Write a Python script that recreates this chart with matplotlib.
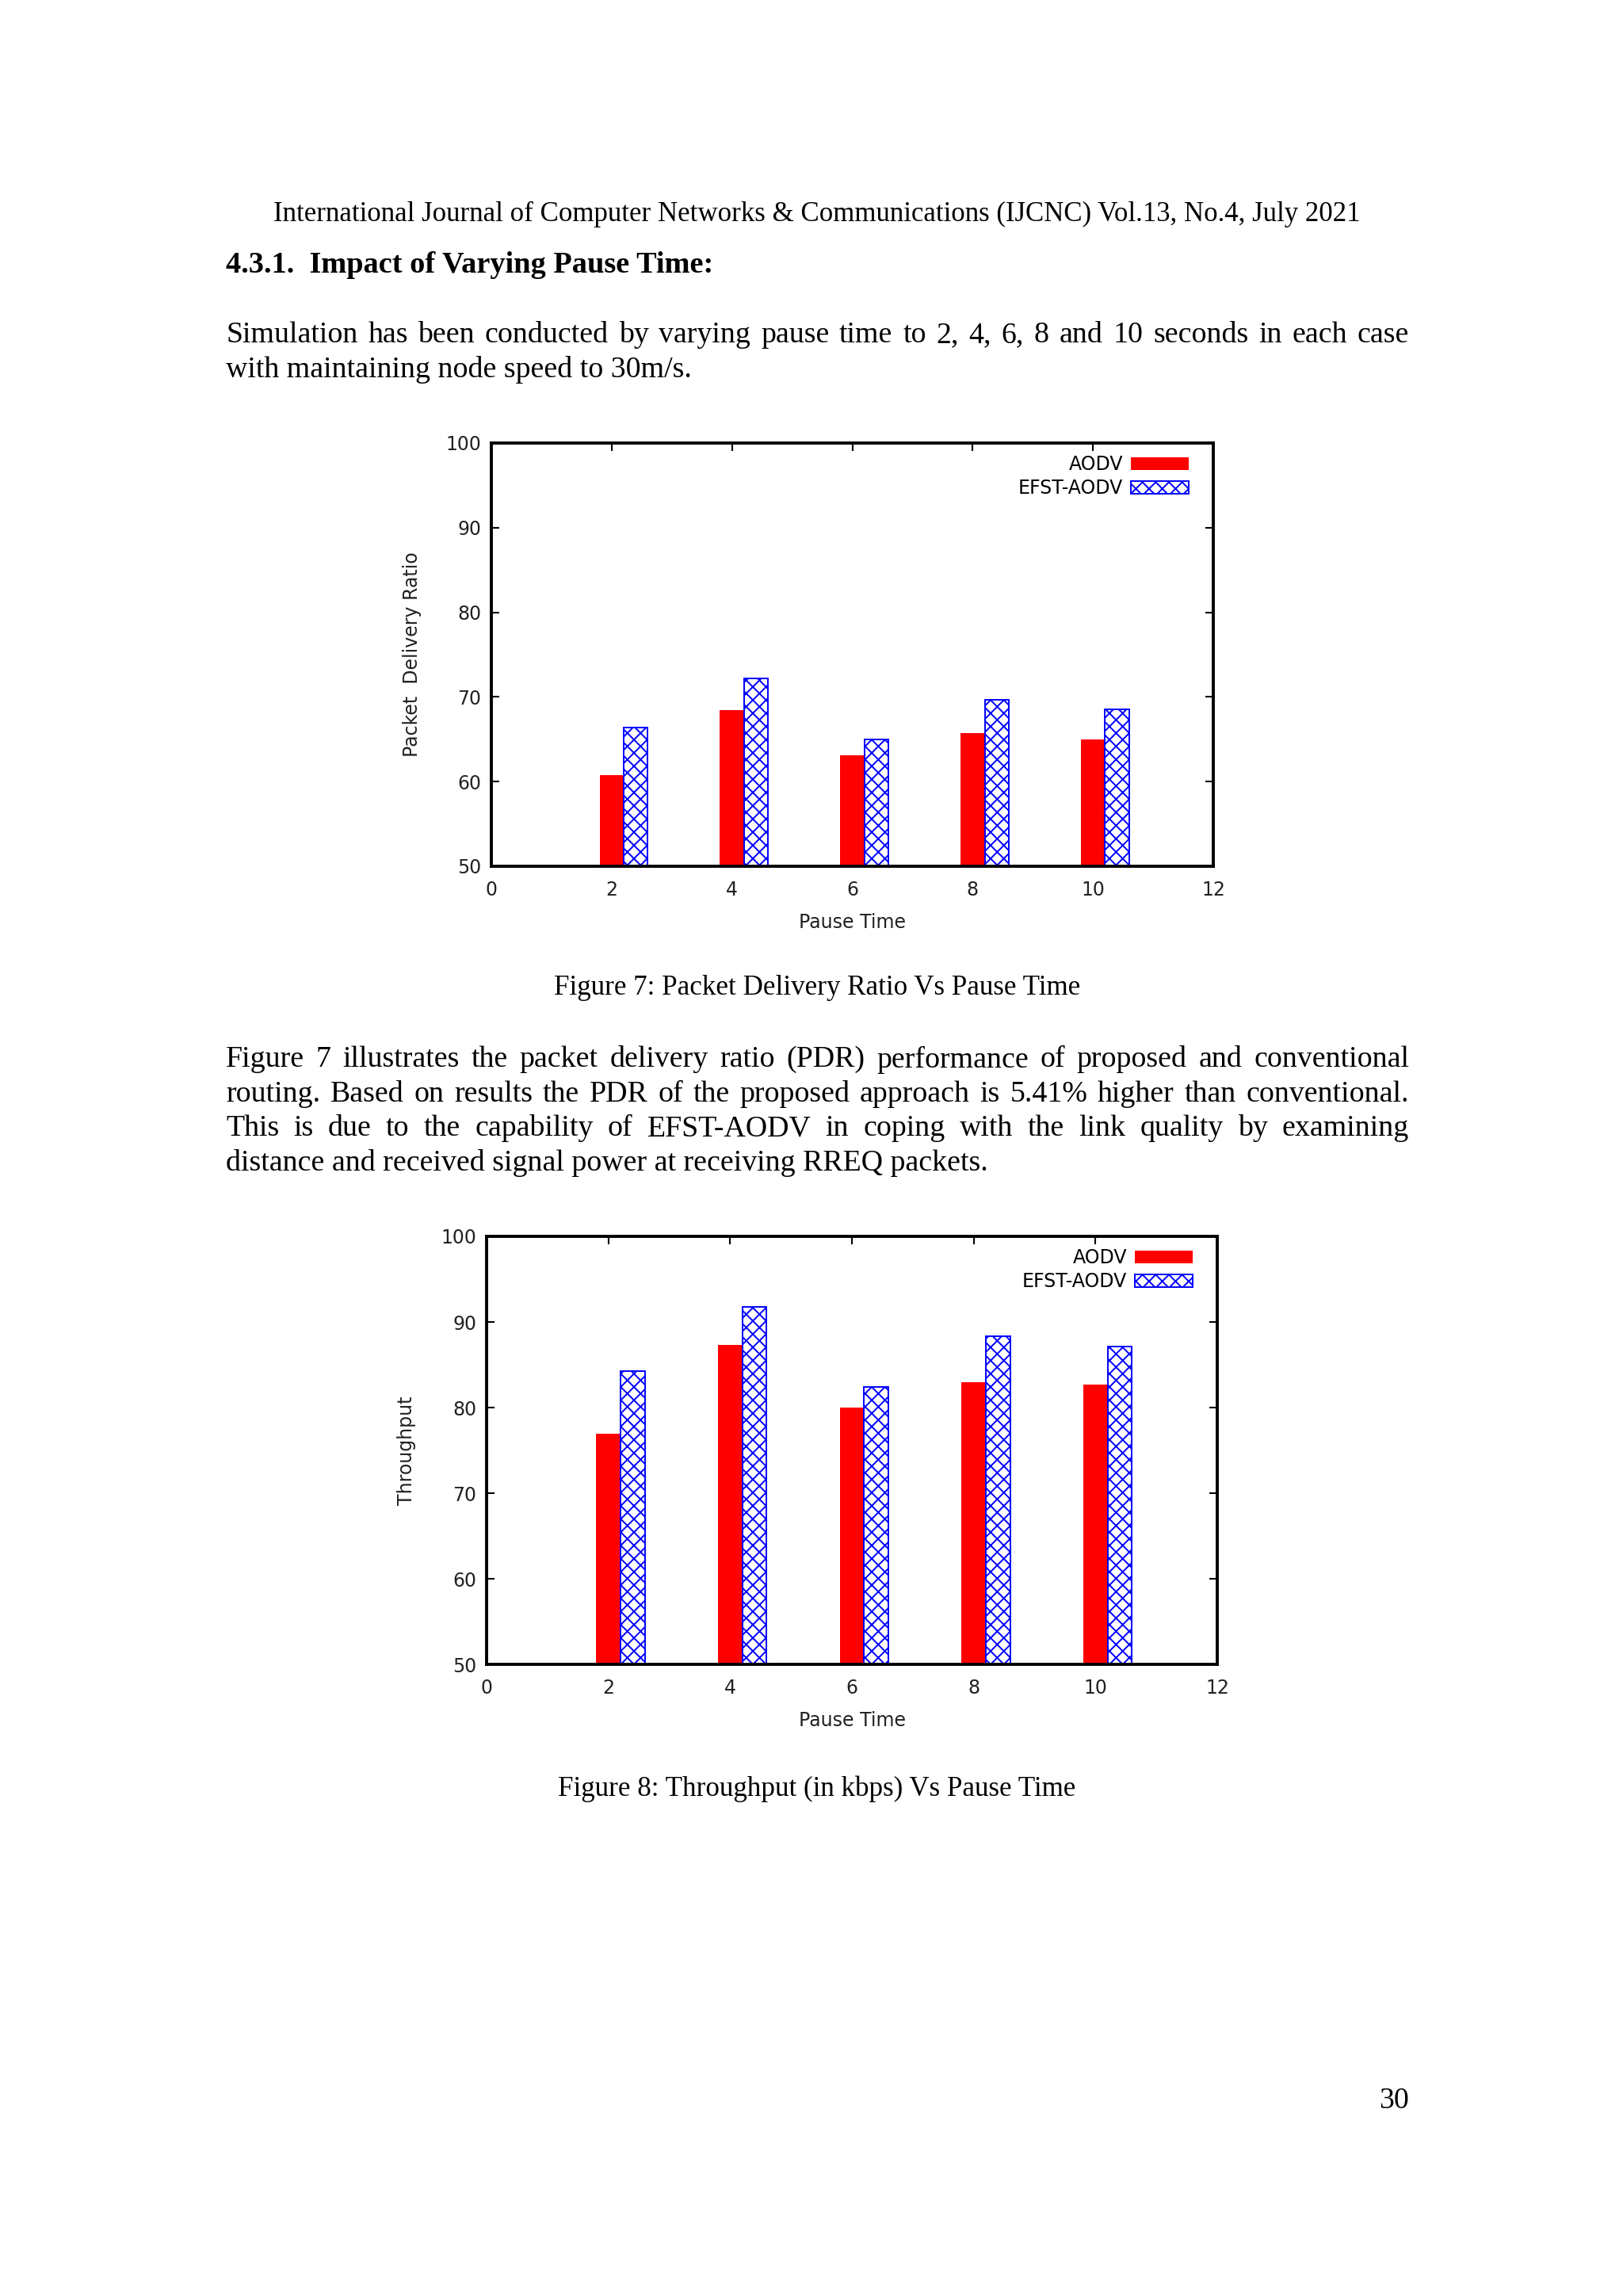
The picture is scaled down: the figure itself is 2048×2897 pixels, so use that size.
import numpy as np
import matplotlib
matplotlib.use("Agg")
import matplotlib.pyplot as plt

# values
pause = [2, 4, 6, 8, 10]
pdr_aodv = [60.8, 68.4, 63.1, 65.7, 65.0]
pdr_efst = [66.4, 72.2, 65.0, 69.7, 68.5]
thr_aodv = [76.9, 87.3, 80.0, 83.0, 82.7]
thr_efst = [84.3, 91.8, 82.4, 88.3, 87.1]
series = ["AODV", "EFST-AODV"]
xticks = [0, 2, 4, 6, 8, 10, 12]
yticks = [50, 60, 70, 80, 90, 100]

header = "International Journal of Computer Networks & Communications (IJCNC) Vol.13, No.4, July 2021"
heading = "4.3.1.  Impact of Varying Pause Time:"
para1 = ["Simulation has been conducted by varying pause time to 2, 4, 6, 8 and 10 seconds in each case",
         "with maintaining node speed to 30m/s."]
para2 = ["Figure 7 illustrates the packet delivery ratio (PDR) performance of proposed and conventional",
         "routing. Based on results the PDR of the proposed approach is 5.41% higher than conventional.",
         "This is due to the capability of EFST-AODV in coping with the link quality by examining",
         "distance and received signal power at receiving RREQ packets."]
cap7 = "Figure 7: Packet Delivery Ratio Vs Pause Time"
cap8 = "Figure 8: Throughput (in kbps) Vs Pause Time"

W, H = 2048, 2897
SERIF = "Liberation Serif"
BODY = 27.3
CAP = 25.2
plt.rcParams['hatch.linewidth'] = 1.4

fig = plt.figure(figsize=(W / 100, H / 100), dpi=100)
fig.patch.set_facecolor("white")


def fx(px):
    return px / W


def fy(py):
    return 1 - py / H


def justified(lines, x0, x1, y0, dy, **kw):
    r = fig.canvas.get_renderer()
    for i, line in enumerate(lines):
        y = fy(y0 + i * dy)
        if i == len(lines) - 1:
            fig.text(fx(x0), y, line, va="center", **kw)
            continue
        words = line.split()
        texts = [fig.text(0, y, w, va="center", **kw) for w in words]
        widths = [t.get_window_extent(r).width for t in texts]
        gap = (x1 - x0 - sum(widths)) / (len(words) - 1)
        x = x0
        for t, w in zip(texts, widths):
            t.set_x(fx(x))
            x += w + gap


fig.text(fx(1031), fy(270), header, ha="center", va="center", family=SERIF, fontsize=25.1)
fig.text(fx(285), fy(335), heading, ha="left", va="center", family=SERIF, fontsize=27.6, weight="bold")
justified(para1, 285, 1778, 423, 44, family=SERIF, fontsize=BODY)
fig.text(fx(1031), fy(1246), cap7, ha="center", va="center", family=SERIF, fontsize=CAP)
justified(para2, 285, 1778, 1337, 43.5, family=SERIF, fontsize=BODY)
fig.text(fx(1031), fy(2257), cap8, ha="center", va="center", family=SERIF, fontsize=CAP)
fig.text(fx(1778), fy(2651), "30", ha="right", va="center", family=SERIF, fontsize=BODY)


def bar_chart(rect, aodv, efst, ylabel, ylab_x):
    ax = fig.add_axes(rect)
    x = np.array(pause)
    ax.bar(x, aodv, width=0.4, color="#ff0000", linewidth=0, label=series[0], zorder=2)
    ax.bar(x + 0.4, efst, width=0.4, facecolor="white", edgecolor="#0000ff",
           hatch="xx", linewidth=1.4, label=series[1], zorder=2)
    ax.set_xlim(0, 12)
    ax.set_ylim(50, 100)
    ax.set_xticks(xticks)
    ax.set_yticks(yticks)
    for s in ax.spines.values():
        s.set_linewidth(2.8)
    ax.tick_params(direction="in", length=7, width=1.5, top=True, right=True,
                   labelsize=17, colors="black", labelcolor="#222222")
    ax.tick_params(axis="x", pad=13)
    ax.tick_params(axis="y", pad=9)
    ax.set_xlabel("Pause Time", fontsize=17, color="#222222", labelpad=12)
    ax.set_ylabel(ylabel, fontsize=17, color="#222222")
    ax.yaxis.set_label_coords(ylab_x, 0.5)
    ax.legend(loc="upper right", frameon=False, markerfirst=False, fontsize=17,
              handlelength=3.1, handleheight=0.65, labelspacing=0.25,
              borderaxespad=0.3, handletextpad=0.4, bbox_to_anchor=(0.984, 1.002))
    return ax


bar_chart([fx(620), fy(1093), fx(1531 - 620), (1093 - 559) / H], pdr_aodv, pdr_efst,
          "Packet  Delivery Ratio", -0.097)
bar_chart([fx(614), fy(2100), fx(1536 - 614), (2100 - 1560) / H], thr_aodv, thr_efst,
          "Throughput", -0.096)

fig.savefig("out.png", dpi=100, facecolor="white")
